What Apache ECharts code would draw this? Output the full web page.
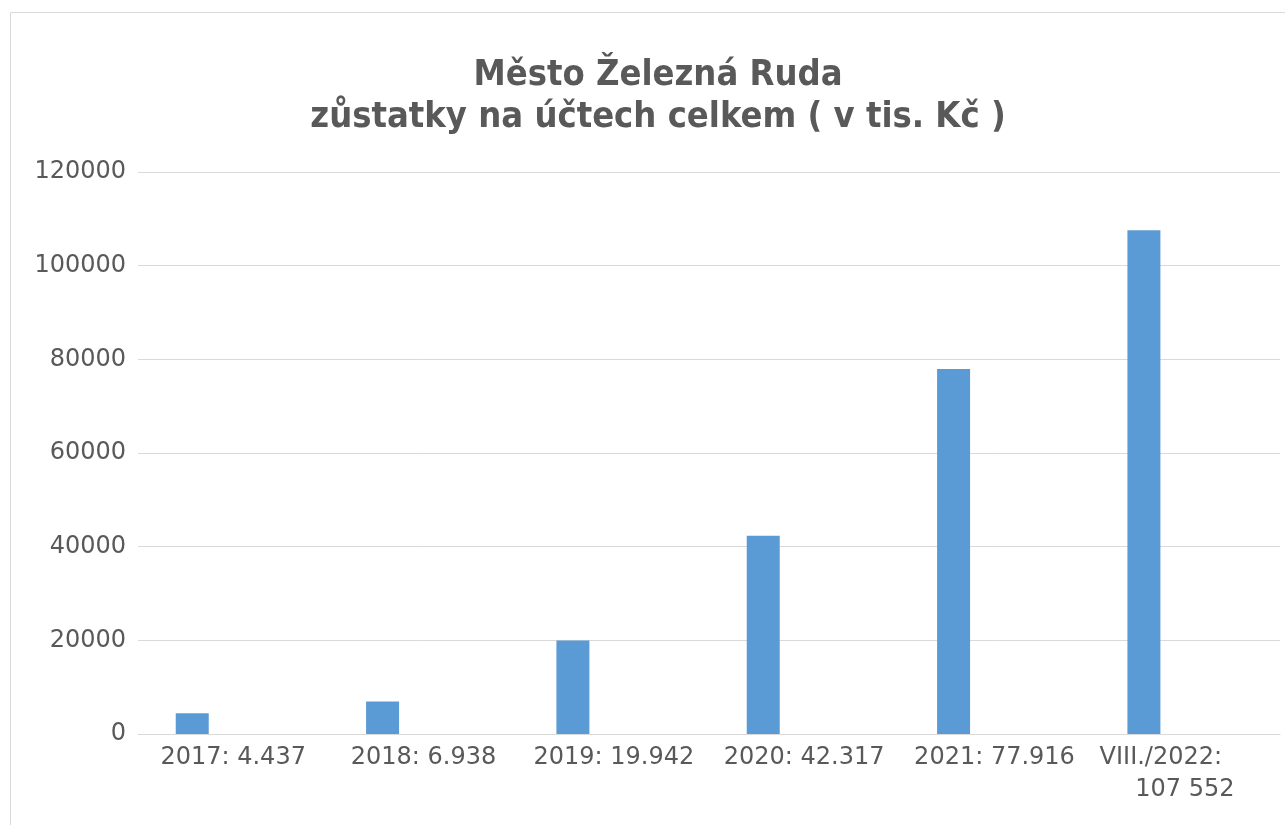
<!DOCTYPE html>
<html>
<head>
<meta charset="utf-8">
<script src="https://cdn.jsdelivr.net/npm/echarts@6/dist/echarts.min.js"></script>
<style>
html,body{margin:0;padding:0;background:#fff;}
#chart{width:1285px;height:825px;}
</style>
</head>
<body>
<div id="chart"></div>
<script>
const titleLines = ['Město Železná Ruda', 'zůstatky na účtech celkem ( v tis. Kč )'];
const categories = ['2017: 4.437', '2018: 6.938', '2019: 19.942', '2020: 42.317', '2021: 77.916', 'VIII./2022:\n107 552'];
const balances = [4437, 6938, 19942, 42317, 77916, 107552];
const emptySeries = [null, null, null, null, null, null];
const yTicks = { min: 0, max: 120000, interval: 20000 };

const chart = echarts.init(document.getElementById('chart'));
const textColor = '#595959';
const gridColor = '#d9d9d9';
const axisFont = 'DejaVu Sans';

chart.setOption({
  animation: false,
  backgroundColor: '#ffffff',
  graphic: [{
    type: 'rect',
    left: 8, top: 10,
    shape: { width: 1300, height: 830 },
    style: { fill: 'none', stroke: gridColor, lineWidth: 1 },
    silent: true
  }],
  title: {
    text: titleLines.join('\n'),
    left: 653,
    top: 50,
    textAlign: 'center',
    padding: 5,
    textStyle: {
      fontFamily: "'DejaVu Sans Condensed', 'DejaVu Sans'",
      fontWeight: 'bold',
      fontSize: 36,
      lineHeight: 42,
      color: textColor
    }
  },
  grid: { left: 138, right: 5, top: 172, bottom: 91, containLabel: false },
  xAxis: {
    type: 'category',
    data: categories,
    axisLine: { show: true, lineStyle: { color: gridColor, width: 1 } },
    axisTick: { show: false },
    axisLabel: {
      interval: 0,
      margin: 8,
      color: textColor,
      fontFamily: axisFont,
      fontSize: 24,
      lineHeight: 32,
      formatter: function (v) {
        const parts = v.split('\n');
        if (parts.length < 2) return v;
        return '{l1|' + parts[0] + '}\n{l2|' + parts[1] + '}';
      },
      rich: {
        l1: { fontFamily: axisFont, fontSize: 24, lineHeight: 32, color: textColor, padding: [0, 48, 0, 0] },
        l2: { fontFamily: axisFont, fontSize: 24, lineHeight: 32, color: textColor, align: 'center' }
      }
    }
  },
  yAxis: {
    type: 'value',
    min: yTicks.min,
    max: yTicks.max,
    interval: yTicks.interval,
    axisLine: { show: false },
    axisTick: { show: false },
    splitLine: { show: true, lineStyle: { color: gridColor, width: 1 } },
    axisLabel: {
      margin: 12, color: textColor, fontFamily: axisFont, fontSize: 24,
      formatter: function (v) { return String(v); }
    }
  },
  series: [
    { type: 'bar', data: balances, barWidth: 33, barGap: '148%', itemStyle: { color: '#5b9bd5' } },
    { type: 'bar', data: emptySeries, barWidth: 33, itemStyle: { color: '#ed7d31' } }
  ]
});
</script>
</body>
</html>
